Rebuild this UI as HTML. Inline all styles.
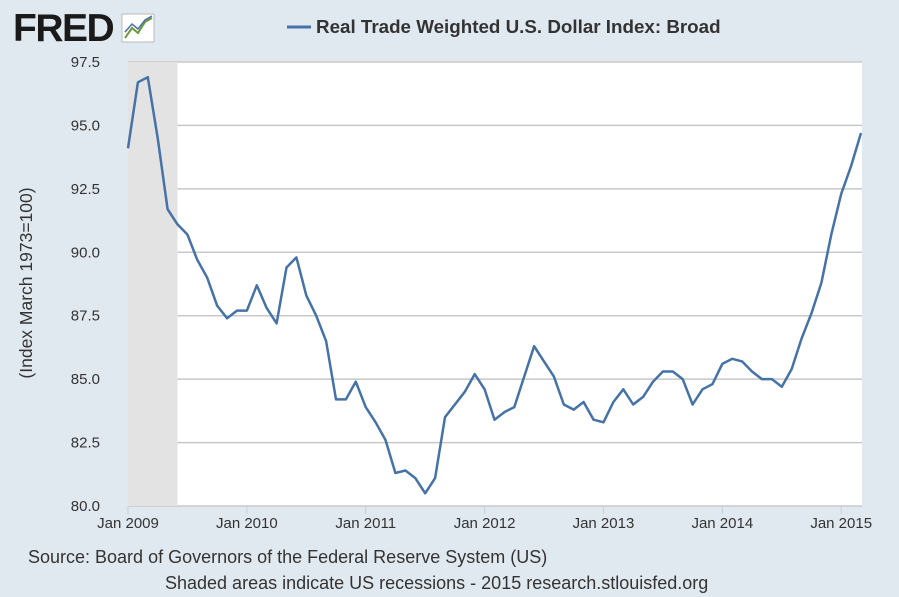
<!DOCTYPE html>
<html><head><meta charset="utf-8"><style>
body{margin:0;background:#e1e9f0;font-family:"Liberation Sans",sans-serif;}
#wrap{position:relative;width:899px;height:597px;overflow:hidden;background:#e1e9f0;}
</style></head><body>
<div id="wrap">
<svg id="chart" width="899" height="597" xmlns="http://www.w3.org/2000/svg">
<g>
<text x="13" y="41" font-size="39" font-weight="bold" fill="#1a1a1a" font-family="Liberation Sans, sans-serif" letter-spacing="-1.5">FRED</text>
<rect x="122" y="14" width="32" height="28" fill="#fff" stroke="#bbb"/>
<polyline points="125,38 132,28 138,33 145,22 152,18" fill="none" stroke="#6c9a3b" stroke-width="2"/>
<polyline points="125,32 132,24 138,29 145,20 152,16" fill="none" stroke="#4a72a8" stroke-width="1.5"/>
</g>
<g>
<line x1="287" y1="27" x2="311" y2="27" stroke="#4572a7" stroke-width="3"/>
<text x="316" y="33" font-size="18.8" font-weight="bold" fill="#333">Real Trade Weighted U.S. Dollar Index: Broad</text>
</g>
<rect x="128" y="62" width="734" height="444" fill="#fff"/>
<g id="grid"></g>
<g id="recess"></g>
<g id="yticks"></g>
<g id="xticks"></g>
<path id="line" fill="none" stroke="#4572a7" stroke-width="2.5" stroke-linejoin="round"/>
<text transform="translate(32,283) rotate(-90)" text-anchor="middle" font-size="17.5" fill="#333">(Index March 1973=100)</text>
<text x="28" y="563" font-size="18" fill="#333">Source: Board of Governors of the Federal Reserve System (US)</text>
<text x="165" y="589" font-size="18" fill="#333">Shaded areas indicate US recessions - 2015 research.stlouisfed.org</text>
</svg>
</div>
<script>
const values=[94.1,96.7,96.9,94.5,91.7,91.1,90.7,89.7,89.0,87.9,87.4,87.7,
87.7,88.7,87.8,87.2,89.4,89.8,88.3,87.5,86.5,84.2,84.2,84.9,
83.9,83.3,82.6,81.3,81.4,81.1,80.5,81.1,83.5,84.0,84.5,85.2,
84.6,83.4,83.7,83.9,85.1,86.3,85.7,85.1,84.0,83.8,84.1,83.4,
83.3,84.1,84.6,84.0,84.3,84.9,85.3,85.3,85.0,84.0,84.6,84.8,
85.6,85.8,85.7,85.3,85.0,85.0,84.7,85.4,86.6,87.6,88.8,90.7,
92.3,93.4,94.7];
const yTicks=[80,82.5,85,87.5,90,92.5,95,97.5];
const yTickLabels=["80.0","82.5","85.0","87.5","90.0","92.5","95.0","97.5"];
const xTickMonths=[0,12,24,36,48,60,72];
const xTickLabels=["Jan 2009","Jan 2010","Jan 2011","Jan 2012","Jan 2013","Jan 2014","Jan 2015"];
const recessionMonths=[0,5];
const NS="http://www.w3.org/2000/svg";
const X0=128,X1=861,Y0=506,Y1=62,YMIN=80,YMAX=97.5;
function xs(i){return X0+i*(X1-X0)/(values.length-1);}
function ys(v){return Y0-(v-YMIN)/(YMAX-YMIN)*(Y0-Y1);}
function mk(t,a){const e=document.createElementNS(NS,t);for(const k in a)e.setAttribute(k,a[k]);return e;}
const rg=document.getElementById('recess');
const r=mk('rect',{x:xs(recessionMonths[0]),y:Y1,width:xs(recessionMonths[1])-xs(recessionMonths[0]),height:Y0-Y1,fill:'#e3e3e3'});


rg.appendChild(r);
const g=document.getElementById('grid'),yt=document.getElementById('yticks');
yTicks.forEach((v,i)=>{
 const l=mk('line',{x1:X0,x2:862,y1:ys(v),y2:ys(v),stroke:'#c8c8c8','stroke-width':1.5});
 
 
 g.appendChild(l);
 const t=mk('text',{x:100,y:ys(v)+5,'text-anchor':'end','font-size':15,fill:'#333'});
 
 
 t.textContent=yTickLabels[i];yt.appendChild(t);
});
const xt=document.getElementById('xticks');
xTickMonths.forEach((m,i)=>{
 const l=mk('line',{x1:xs(m),x2:xs(m),y1:Y0,y2:Y0+8,stroke:'#c0d0e0','stroke-width':1});
 
 
 xt.appendChild(l);
 const t=mk('text',{x:xs(m),y:Y0+22,'text-anchor':'middle','font-size':15,fill:'#333'});
 
 
 t.textContent=xTickLabels[i];xt.appendChild(t);
});
document.getElementById('line').setAttribute('d',values.map((v,i)=>(i?'L':'M')+xs(i).toFixed(1)+','+ys(v).toFixed(1)).join(''));
</script>
</body></html>
